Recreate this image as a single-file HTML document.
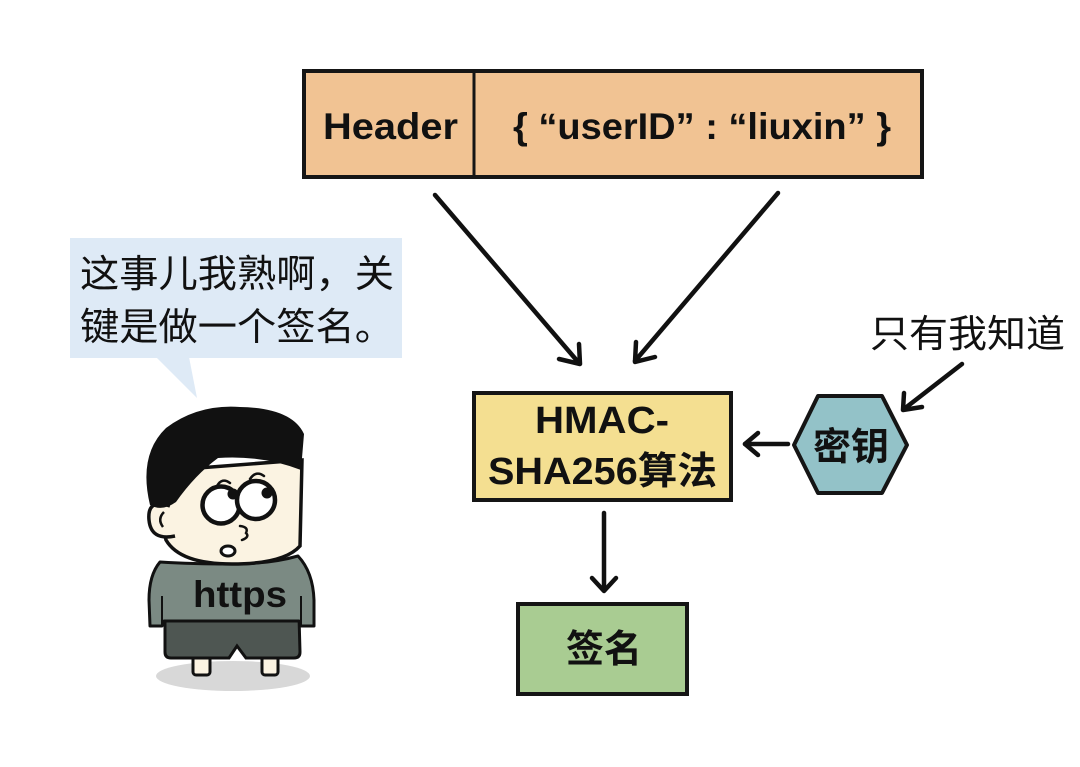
<!DOCTYPE html>
<html>
<head>
<meta charset="utf-8">
<style>
  html,body{margin:0;padding:0;background:#fff;}
  body{width:1080px;height:767px;overflow:hidden;}
  svg{display:block;}
  .lat{font-family:"Liberation Sans","Noto Sans CJK SC",sans-serif;font-weight:bold;fill:#111;}
  .cjk{font-family:"Liberation Sans","Noto Sans CJK SC",sans-serif;fill:#111;}
</style>
</head>
<body>
<svg width="1080" height="767" viewBox="0 0 1080 767" xmlns="http://www.w3.org/2000/svg">
  <rect x="0" y="0" width="1080" height="767" fill="#ffffff"/>

  <!-- Top header box -->
  <rect x="304" y="71" width="618" height="106" fill="#f1c393" stroke="#151515" stroke-width="4"/>
  <line x1="474" y1="71" x2="474" y2="177" stroke="#151515" stroke-width="3"/>
  <text class="lat" x="323" y="139" font-size="37" textLength="135" lengthAdjust="spacingAndGlyphs">Header</text>
  <text class="lat" x="513" y="139" font-size="37" textLength="378" lengthAdjust="spacingAndGlyphs">{ “userID” : “liuxin” }</text>

  <!-- arrows -->
  <g stroke="#111" stroke-width="4.5" stroke-linecap="round" stroke-linejoin="round" fill="none">
    <line x1="435" y1="195" x2="579" y2="363"/>
    <polyline points="559,359 580,364 579,344"/>
    <line x1="778" y1="193" x2="635" y2="361"/>
    <polyline points="636,342 635,362 655,357"/>
    <line x1="788" y1="444" x2="745" y2="444"/>
    <polyline points="758,433 745,444 758,455"/>
    <line x1="604" y1="513" x2="604" y2="590"/>
    <polyline points="592,578 604,591 616,578"/>
    <line x1="962" y1="364" x2="904" y2="409"/>
    <polyline points="904,393 903,410 922,407"/>
  </g>

  <!-- HMAC box -->
  <rect x="474" y="393" width="257" height="107" fill="#f4df91" stroke="#151515" stroke-width="4"/>
  <text class="lat" x="535" y="433" font-size="38" textLength="134" lengthAdjust="spacingAndGlyphs">HMAC-</text>
  <text class="lat" x="488" y="484" font-size="38" textLength="229" lengthAdjust="spacingAndGlyphs">SHA256算法</text>

  <!-- Hexagon key -->
  <polygon points="794,445 818,396 882,396 907,445 882,493 818,493" fill="#93c2c8" stroke="#151515" stroke-width="4" stroke-linejoin="round"/>
  <text class="lat" x="851" y="460" font-size="38" text-anchor="middle">密钥</text>

  <!-- only I know -->
  <text class="cjk" x="870" y="347" font-size="38" textLength="195" lengthAdjust="spacingAndGlyphs">只有我知道</text>

  <!-- Sign box -->
  <rect x="518" y="604" width="169" height="90" fill="#a9cc92" stroke="#151515" stroke-width="4"/>
  <text class="lat" x="604" y="662" font-size="38" text-anchor="middle">签名</text>

  <!-- Speech bubble -->
  <rect x="70" y="238" width="332" height="120" fill="#deeaf6"/>
  <polygon points="156,357 197,398 189,357" fill="#deeaf6"/>
  <text class="cjk" x="80" y="287" font-size="38" textLength="314" lengthAdjust="spacingAndGlyphs">这事儿我熟啊，关</text>
  <text class="cjk" x="80" y="340" font-size="38" textLength="314" lengthAdjust="spacingAndGlyphs">键是做一个签名。</text>

  <!-- Character -->
  <ellipse cx="233" cy="676" rx="77" ry="15" fill="#d8d8d8"/>
  <!-- legs -->
  <rect x="193" y="648" width="17" height="27" rx="3" fill="#fbf3e2" stroke="#111" stroke-width="3"/>
  <rect x="262" y="648" width="16" height="27" rx="3" fill="#fbf3e2" stroke="#111" stroke-width="3"/>
  <!-- shorts -->
  <path d="M165 616 L299 616 L300 652 Q300 658 294 658 L246 658 L237 646 L229 658 L171 658 Q165 658 165 652 Z" fill="#4e5652" stroke="#111" stroke-width="3"/>
  <!-- shirt -->
  <path d="M160 562 Q149 575 149 600 L150 626 L162 626 L164 621 L299 621 L301 626 L314 626 L314 600 Q313 572 298 556 Q270 564 232 564 Q192 564 160 562 Z" fill="#7b8a83" stroke="#111" stroke-width="3" stroke-linejoin="round"/>
  <line x1="162" y1="596" x2="162" y2="626" stroke="#111" stroke-width="2"/>
  <line x1="301" y1="596" x2="301" y2="626" stroke="#111" stroke-width="2"/>
  <text class="lat" x="240" y="607" font-size="37" text-anchor="middle" textLength="94" lengthAdjust="spacingAndGlyphs">https</text>
  <!-- face -->
  <path d="M172 470 Q158 512 166 540 Q180 564 232 564 Q284 564 300 546 L302 460 Z" fill="#fbf3e2" stroke="#111" stroke-width="3.5"/>
  <!-- ear -->
  <path d="M170 506 Q147 498 149 520 Q151 541 175 536" fill="#fbf3e2" stroke="#111" stroke-width="3.5"/>
  <path d="M164 512 Q157 519 163 527" fill="none" stroke="#111" stroke-width="2.5"/>
  <!-- hair -->
  <path d="M150 505 Q138 455 166 428 Q198 404 240 407 Q292 408 304 434 L301 470 Q262 455 218 458 Q195 475 176 502 Q162 512 150 505 Z" fill="#111"/>
  <!-- eyes -->
  <circle cx="221" cy="505" r="18.5" fill="#fff" stroke="#111" stroke-width="4.5"/>
  <circle cx="256" cy="500" r="19" fill="#fff" stroke="#111" stroke-width="4.5"/>
  <circle cx="233" cy="494" r="5.5" fill="#111"/>
  <circle cx="267" cy="493" r="5.5" fill="#111"/>
  <!-- brows -->
  <path d="M217 486 Q222 477 230 483" fill="none" stroke="#111" stroke-width="2.5" stroke-linecap="round"/>
  <path d="M250 479 Q256 470 264 476" fill="none" stroke="#111" stroke-width="2.5" stroke-linecap="round"/>
  <!-- nose -->
  <path d="M240 526 Q249 527 246 533 Q250 537 242 540" fill="none" stroke="#111" stroke-width="2.5" stroke-linecap="round"/>
  <!-- mouth -->
  <ellipse cx="228" cy="551" rx="7" ry="5" fill="#fff" stroke="#111" stroke-width="3"/>
</svg>
</body>
</html>
